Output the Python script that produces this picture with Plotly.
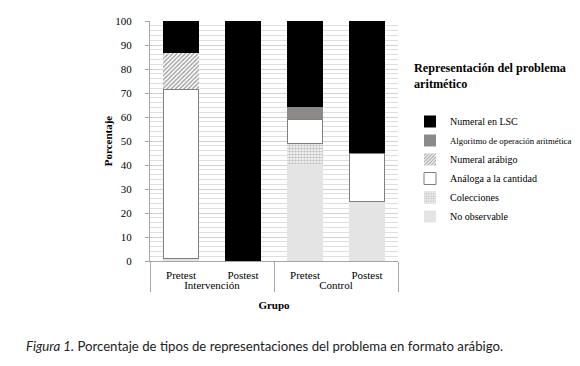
import plotly.graph_objects as go

grupos = ["Intervención", "Intervención", "Control", "Control"]
momentos = ["Pretest", "Postest", "Pretest", "Postest"]

no_observable = [1, 0, 40, 25]
colecciones = [0, 0, 9, 0]
analoga = [70.5, 0, 10, 20]
numeral_arabigo = [15, 0, 0, 0]
algoritmo = [0, 0, 5, 0]
numeral_lsc = [13.5, 100, 36, 55]

serif = "Liberation Serif"
x = [grupos, momentos]

fig = go.Figure()
fig.add_bar(x=x, y=no_observable, name="No observable",
            marker=dict(color="#e4e4e4", line=dict(width=0)))
fig.add_bar(x=x, y=colecciones, name="Colecciones",
            marker=dict(color="#ffffff", line=dict(width=0),
                        pattern=dict(shape=".", fgcolor="#8a8a8a", bgcolor="#ffffff",
                                     size=3, solidity=0.6)))
fig.add_bar(x=x, y=analoga, name="Análoga a la cantidad",
            marker=dict(color="#ffffff", line=dict(width=1, color="#7f7f7f")))
fig.add_bar(x=x, y=numeral_arabigo, name="Numeral arábigo",
            marker=dict(color="#ffffff", line=dict(width=0),
                        pattern=dict(shape="/", fgcolor="#3a3a3a", bgcolor="#ffffff",
                                     size=3, solidity=0.45)))
fig.add_bar(x=x, y=algoritmo,
            name='<span style="font-size:8.8px">Algoritmo de operación aritmética</span>',
            marker=dict(color="#8c8989", line=dict(width=0)))
fig.add_bar(x=x, y=numeral_lsc, name="Numeral en LSC",
            marker=dict(color="#000000", line=dict(width=0)))

fig.update_layout(
    width=580, height=366,
    barmode="stack", bargap=0.426,
    paper_bgcolor="white", plot_bgcolor="white",
    margin=dict(l=150, r=179, t=21, b=105),
    font=dict(family=serif, size=11, color="#000000"),
    showlegend=True,
    legend=dict(xref="container", yref="container", x=410 / 580, xanchor="left",
                y=1 - 107 / 366, yanchor="top",
                traceorder="reversed", font=dict(family=serif, size=10),
                itemwidth=30, tracegroupgap=0, bgcolor="rgba(0,0,0,0)"),
    xaxis=dict(type="multicategory", showline=True, linecolor="#a6a6a6",
               showdividers=True, dividercolor="#a6a6a6", dividerwidth=1,
               tickfont=dict(family=serif, size=11), ticklabelstandoff=4,
               title=dict(text="<b>Grupo</b>", font=dict(family=serif, size=11), standoff=11)),
    yaxis=dict(range=[0, 100], dtick=10, showline=True, linecolor="#a6a6a6",
               ticks="outside", ticklen=4, tickcolor="#a6a6a6", ticklabelstandoff=11,
               showgrid=True, gridcolor="#d0d0d0", gridwidth=1,
               minor=dict(dtick=2, showgrid=True, gridcolor="#dedede", gridwidth=1),
               tickfont=dict(family=serif, size=11),
               title=dict(text="<b>Porcentaje</b>", font=dict(family=serif, size=11), standoff=0)),
    annotations=[
        dict(text="<b>Representación del problema<br>aritmético</b>", xref="paper", yref="paper",
             x=(415 - 150) / 251, y=(261 - 59) / 240, xanchor="left", yanchor="top", align="left",
             showarrow=False, font=dict(family=serif, size=12.2)),
        dict(text="<i>Figura 1.</i> Porcentaje de tipos de representaciones del problema en formato arábigo.",
             xref="paper", yref="paper", x=(22 - 150) / 251, y=-0.354, xanchor="left", yanchor="middle",
             showarrow=False, font=dict(family="Lato", size=13.2, color="#222222")),
    ],
)

fig.write_html("out.html")
